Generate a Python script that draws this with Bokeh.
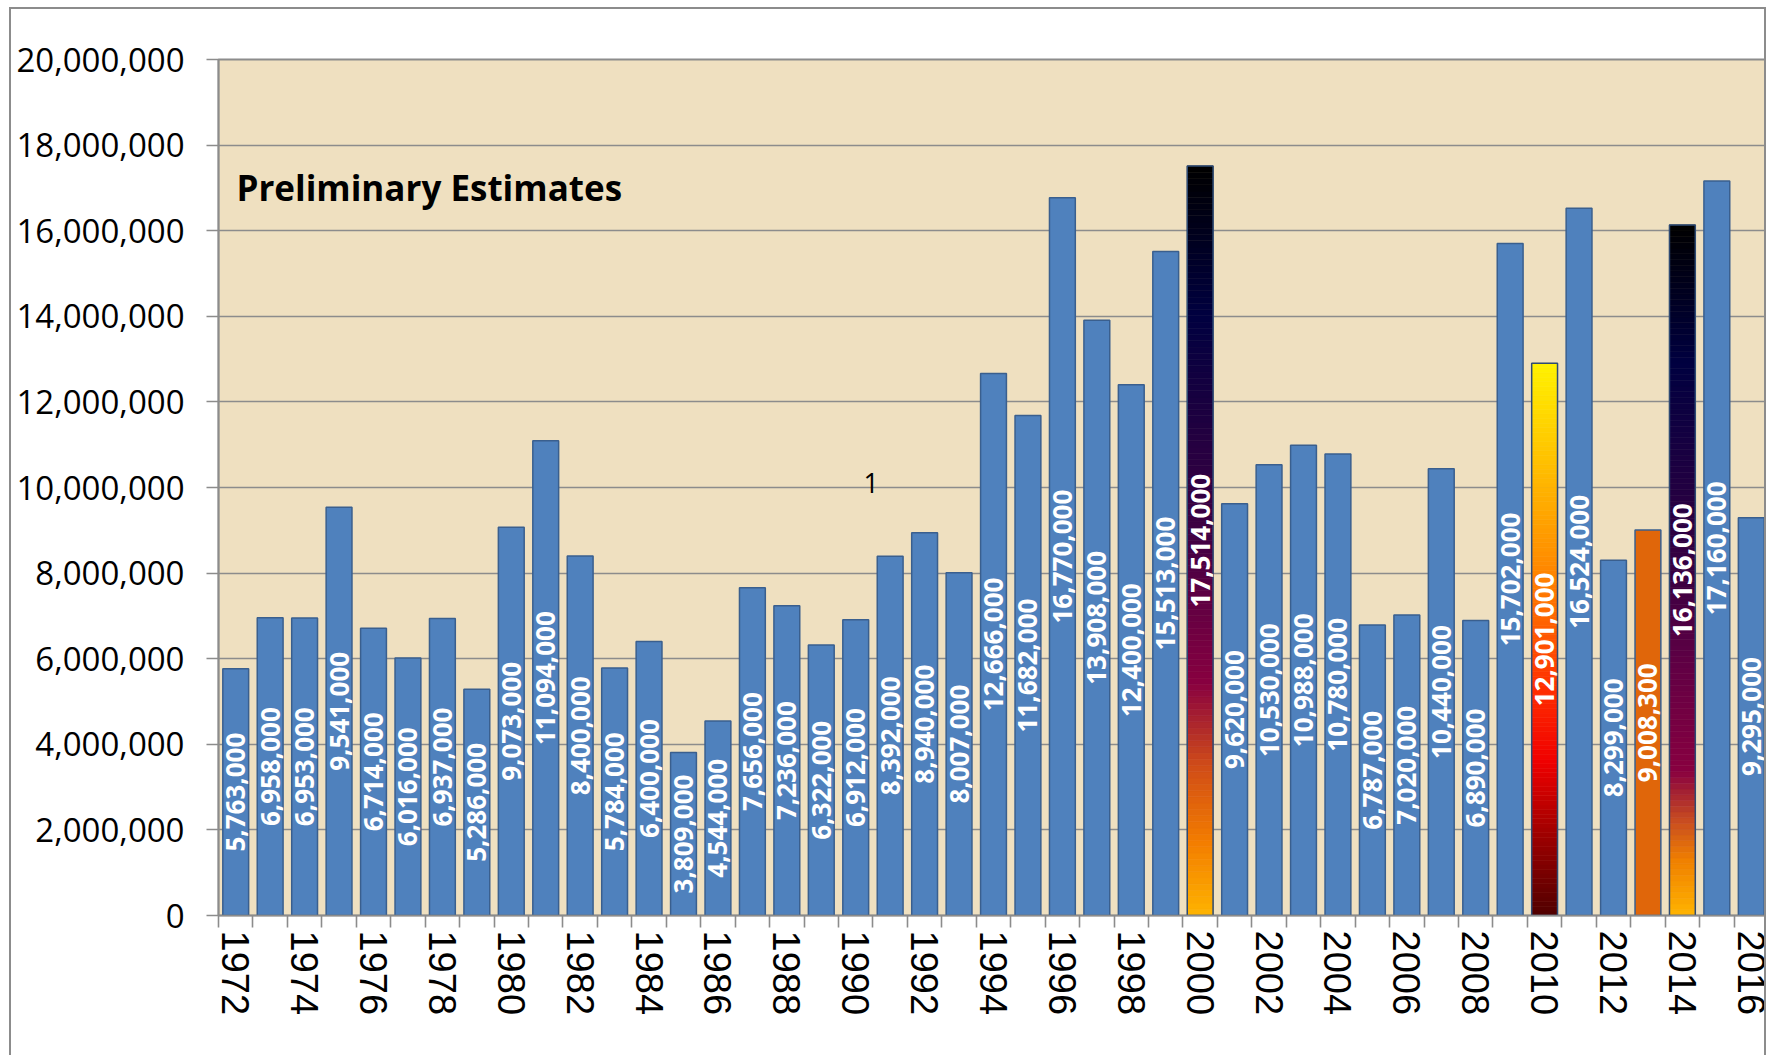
import numpy as np
from bokeh.plotting import figure
from bokeh.models import ColumnDataSource, FixedTicker, NumeralTickFormatter, Label, Range1d
from bokeh.core.properties import value
from bokeh.embed import file_html
from bokeh.resources import INLINE

# ---------------- data ----------------
years = list(range(1972, 2017))
acres = [5763000, 6958000, 6953000, 9541000, 6714000, 6016000, 6937000, 5286000, 9073000, 11094000,
         8400000, 5784000, 6400000, 3809000, 4544000, 7656000, 7236000, 6322000, 6912000, 8392000,
         8940000, 8007000, 12666000, 11682000, 16770000, 13908000, 12400000, 15513000, 17514000, 9620000,
         10530000, 10988000, 10780000, 6787000, 7020000, 10440000, 6890000, 15702000, 12901000, 16524000,
         8299000, 9008300, 16136000, 17160000, 9295000]
tick_years = list(range(1972, 2017, 2))
y_ticks = list(range(0, 20000001, 2000000))
title_text = "Preliminary Estimates"
note_text = "1"

# ---------------- styles ----------------
BLUE = "#4F81BD"
EDGE = "#3A5F8E"
GRID = "#8C8C8C"
BG = "#EFE0C0"
LABEL_FONT = "Open Sans"

gradients = {
    2000: [(0.0, "#FFB400"), (0.10, "#F27C00"), (0.20, "#D04C18"), (0.31, "#880040"),
           (0.50, "#420044"), (0.65, "#200040"), (0.80, "#000040"), (1.0, "#000000")],
    2014: [(0.0, "#FFB400"), (0.08, "#F08000"), (0.14, "#C64A22"), (0.21, "#880040"),
           (0.35, "#640044"), (0.50, "#380042"), (0.80, "#000040"), (1.0, "#000000")],
    2010: [(0.0, "#500000"), (0.15, "#A00000"), (0.28, "#F00000"), (0.40, "#FF2A00"),
           (0.55, "#FF6A00"), (0.65, "#FF9000"), (0.82, "#FFC000"), (1.0, "#FFF200")],
}
solid_special = {2013: "#E0660A"}

def hex_to_rgb(h):
    h = h.lstrip("#")
    return tuple(int(h[i:i + 2], 16) for i in (0, 2, 4))

def interp_color(stops, f):
    for (f0, c0), (f1, c1) in zip(stops[:-1], stops[1:]):
        if f0 <= f <= f1:
            t = 0 if f1 == f0 else (f - f0) / (f1 - f0)
            a, b = hex_to_rgb(c0), hex_to_rgb(c1)
            return "#%02x%02x%02x" % tuple(int(round(a[i] + (b[i] - a[i]) * t)) for i in range(3))
    return stops[-1][1]

# ---------------- figure ----------------
W, H = 1757, 1048
p = figure(width=W, height=H, output_backend="svg", toolbar_location=None,
           x_range=Range1d(1971.5, 2016.5), y_range=Range1d(0, 20000000),
           min_border_left=207, min_border_right=0, min_border_top=50, min_border_bottom=142)
p.styles = {"margin": "7px 0px 0px 9px",
            "border-top": "2px solid #8C8C8C",
            "border-left": "2px solid #8C8C8C",
            "border-right": "2px solid #8C8C8C"}
p.background_fill_color = BG
p.border_fill_color = "white"
p.outline_line_color = GRID
p.outline_line_width = 2

p.xgrid.grid_line_color = None
p.ygrid.grid_line_color = GRID
p.ygrid.grid_line_width = 1.6
p.ygrid.ticker = FixedTicker(ticks=y_ticks)

# y axis
p.yaxis.ticker = FixedTicker(ticks=y_ticks, minor_ticks=[])
p.yaxis.formatter = NumeralTickFormatter(format="0,0")
p.yaxis.major_label_text_font = LABEL_FONT
p.yaxis.major_label_text_font_size = "33px"
p.yaxis.major_label_text_color = "black"
p.yaxis.major_tick_out = 12
p.yaxis.major_tick_in = 0
p.yaxis.minor_tick_line_color = None
p.yaxis.major_tick_line_color = GRID
p.yaxis.major_tick_line_width = 1.6
p.yaxis.axis_line_color = GRID
p.yaxis.axis_line_width = 1.6
p.yaxis.major_label_standoff = 22

# x axis
boundaries = [y - 0.5 for y in years] + [years[-1] + 0.5]
p.xaxis.ticker = FixedTicker(ticks=tick_years, minor_ticks=boundaries)
p.xaxis.major_tick_out = 0
p.xaxis.major_tick_in = 0
p.xaxis.minor_tick_out = 12
p.xaxis.minor_tick_in = 0
p.xaxis.minor_tick_line_color = GRID
p.xaxis.minor_tick_line_width = 1.6
p.xaxis.axis_line_color = GRID
p.xaxis.axis_line_width = 1.6
p.xaxis.major_label_orientation = "vertical"
p.xaxis.major_label_text_font = "Liberation Sans"
p.xaxis.major_label_text_font_size = "38px"
p.xaxis.major_label_text_color = "black"
p.xaxis.major_label_standoff = 3

# blue bars
special = set(gradients) | set(solid_special)
bx = [y for y in years if y not in special]
bv = [v for y, v in zip(years, acres) if y not in special]
p.vbar(x=bx, top=bv, width=0.75, fill_color=BLUE, line_color=EDGE, line_width=1.5)

# solid special bars
for yr, col in solid_special.items():
    v = acres[years.index(yr)]
    p.vbar(x=[yr], top=[v], width=0.75, fill_color=col, line_color=EDGE, line_width=1.5)

# gradient bars (stacked thin slices)
N = 120
for yr, stops in gradients.items():
    v = acres[years.index(yr)]
    fr = np.linspace(0, 1, N + 1)
    bottoms = fr[:-1] * v
    tops = fr[1:] * v
    cols = [interp_color(stops, (a + b) / 2) for a, b in zip(fr[:-1], fr[1:])]
    src = ColumnDataSource(dict(left=[yr - 0.375] * N, right=[yr + 0.375] * N,
                                bottom=bottoms, top=tops, color=cols))
    p.quad(left="left", right="right", bottom="bottom", top="top", source=src,
           fill_color="color", line_color="color", line_width=0.6)
    p.vbar(x=[yr], top=[v], width=0.75, fill_alpha=0, line_color="#2E4B75", line_width=1.5)

# value labels
lab = ColumnDataSource(dict(x=years, y=[v / 2 for v in acres], t=[f"{v:,}" for v in acres]))
p.text(x="x", y="y", text="t", source=lab, angle=np.pi / 2, text_align="center",
       text_baseline="middle", text_color="white", text_font=value(LABEL_FONT),
       text_font_style="bold", text_font_size="26px")

p.add_layout(Label(x=1972.02, y=17.0e6, text=title_text, text_font=LABEL_FONT,
                   text_font_style="bold", text_font_size="35px", text_color="black",
                   text_baseline="middle", text_align="left"))
p.add_layout(Label(x=1990.45, y=10.1e6, text=note_text, text_font=LABEL_FONT,
                   text_font_size="27px", text_color="black",
                   text_baseline="middle", text_align="center"))

open("out.html", "w").write(file_html(p, INLINE))
